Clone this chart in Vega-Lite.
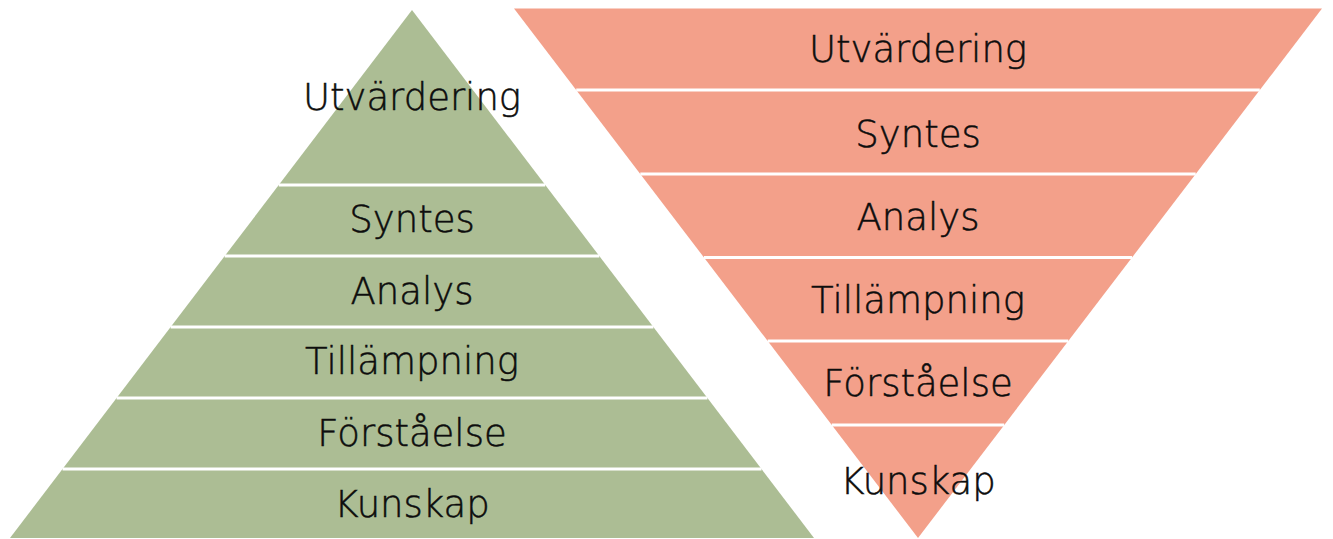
{
  "$schema": "https://vega.github.io/schema/vega-lite/v6.json",
  "width": 1333,
  "height": 539,
  "padding": 0,
  "autosize": {"type": "fit", "contains": "padding"},
  "background": "white",
  "config": {"view": {"stroke": null}},
  "datasets": {
    "shapes": [
      {"pyramid": "Pyramid", "y": 10, "xl": 412, "xr": 412},
      {"pyramid": "Pyramid", "y": 538, "xl": 10, "xr": 814},
      {"pyramid": "Omvänd", "y": 8.5, "xl": 514, "xr": 1322},
      {"pyramid": "Omvänd", "y": 538, "xl": 918, "xr": 918}
    ],
    "separators": [
      {"pyramid": "Pyramid", "y": 185, "xl": 278.8, "xr": 545.2},
      {"pyramid": "Pyramid", "y": 256, "xl": 224.7, "xr": 599.3},
      {"pyramid": "Pyramid", "y": 327, "xl": 170.6, "xr": 653.4},
      {"pyramid": "Pyramid", "y": 398, "xl": 116.6, "xr": 707.4},
      {"pyramid": "Pyramid", "y": 469, "xl": 62.5, "xr": 761.5},
      {"pyramid": "Omvänd", "y": 90, "xl": 576.2, "xr": 1259.8},
      {"pyramid": "Omvänd", "y": 174, "xl": 640.3, "xr": 1195.7},
      {"pyramid": "Omvänd", "y": 257.5, "xl": 704, "xr": 1132},
      {"pyramid": "Omvänd", "y": 341, "xl": 767.7, "xr": 1068.3},
      {"pyramid": "Omvänd", "y": 425, "xl": 831.8, "xr": 1004.2}
    ],
    "labels": [
      {"pyramid": "Pyramid", "label": "Utvärdering", "x": 412, "y": 110},
      {"pyramid": "Pyramid", "label": "Syntes", "x": 412, "y": 232},
      {"pyramid": "Pyramid", "label": "Analys", "x": 412, "y": 303.5},
      {"pyramid": "Pyramid", "label": "Tillämpning", "x": 412, "y": 374},
      {"pyramid": "Pyramid", "label": "Förståelse", "x": 412, "y": 446},
      {"pyramid": "Pyramid", "label": "Kunskap", "x": 412, "y": 517},
      {"pyramid": "Omvänd", "label": "Utvärdering", "x": 918, "y": 62},
      {"pyramid": "Omvänd", "label": "Syntes", "x": 918, "y": 146.7},
      {"pyramid": "Omvänd", "label": "Analys", "x": 918, "y": 230},
      {"pyramid": "Omvänd", "label": "Tillämpning", "x": 918, "y": 313.3},
      {"pyramid": "Omvänd", "label": "Förståelse", "x": 918, "y": 396},
      {"pyramid": "Omvänd", "label": "Kunskap", "x": 918, "y": 494}
    ]
  },
  "layer": [
    {
      "data": {"name": "shapes"},
      "mark": {"type": "area", "orient": "horizontal"},
      "encoding": {
        "y": {"field": "y", "type": "quantitative", "scale": {"domain": [0, 539], "reverse": true, "nice": false, "zero": false}, "axis": null},
        "x": {"field": "xl", "type": "quantitative", "scale": {"domain": [0, 1333], "nice": false, "zero": false}, "axis": null},
        "x2": {"field": "xr"},
        "color": {"field": "pyramid", "type": "nominal", "scale": {"domain": ["Pyramid", "Omvänd"], "range": ["#ACBD94", "#F3A08A"]}, "legend": null},
        "detail": {"field": "pyramid"}
      }
    },
    {
      "data": {"name": "separators"},
      "mark": {"type": "rule", "color": "white", "strokeWidth": 3},
      "encoding": {
        "y": {"field": "y", "type": "quantitative"},
        "x": {"field": "xl", "type": "quantitative"},
        "x2": {"field": "xr"}
      }
    },
    {
      "data": {"name": "labels"},
      "mark": {"type": "text", "font": "DejaVu Sans", "fontSize": 37, "fontWeight": 300, "baseline": "alphabetic", "align": "center", "color": "#0d0d0d", "stroke": "#0d0d0d", "strokeWidth": 0.5},
      "encoding": {
        "x": {"field": "x", "type": "quantitative"},
        "y": {"field": "y", "type": "quantitative"},
        "text": {"field": "label"}
      }
    }
  ]
}
